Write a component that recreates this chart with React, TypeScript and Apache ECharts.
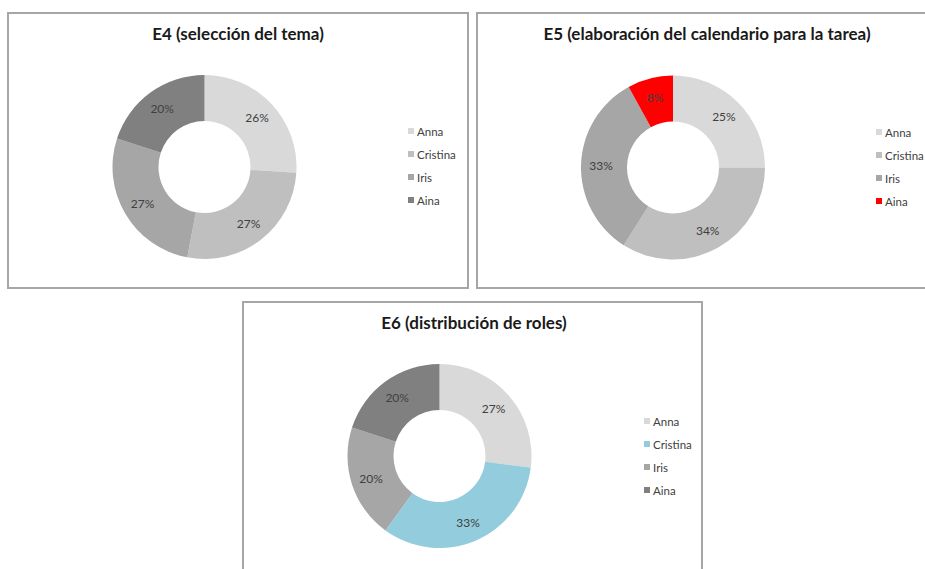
import React, { useEffect, useRef } from "react";
import * as echarts from "echarts";

const names = ["Anna", "Cristina", "Iris", "Aina"];
const titles = [
  "E4 (selección del tema)",
  "E5 (elaboración del calendario para la tarea)",
  "E6 (distribución de roles)",
];
const e4Values = [26, 27, 27, 20];
const e5Values = [25, 34, 33, 8];
const e6Values = [27, 33, 20, 20];
const e4Colors = ["#d9d9d9", "#bfbfbf", "#a6a6a6", "#808080"];
const e5Colors = ["#d9d9d9", "#bfbfbf", "#a6a6a6", "#ff0000"];
const e6Colors = ["#d9d9d9", "#93cddd", "#a6a6a6", "#808080"];

const FONT = "Lato, 'Open Sans', sans-serif";

export default function App() {
  const ref = useRef<HTMLDivElement>(null);
  useEffect(() => {
    if (!ref.current) return;
    const chart = echarts.init(ref.current, undefined, { renderer: "svg" });

    const panels = [
      { values: e4Values, colors: e4Colors, center: [204.5, 167], titleX: 233, titleY: 20, legendLeft: 403, legendTop: 119 },
      { values: e5Values, colors: e5Colors, center: [673, 167.5], titleX: 702, titleY: 20, legendLeft: 871, legendTop: 120 },
      { values: e6Values, colors: e6Colors, center: [439.5, 456], titleX: 469, titleY: 309, legendLeft: 639, legendTop: 409 },
    ];

    const series = panels.map((p) => ({
      type: "pie",
      radius: [46, 92],
      center: p.center,
      startAngle: 90,
      clockwise: true,
      silent: true,
      label: {
        show: true,
        position: "inside",
        formatter: "{c}%",
        color: "#404040",
        fontSize: 12,
        fontFamily: FONT,
      },
      labelLine: { show: false },
      itemStyle: { borderWidth: 0 },
      data: names.map((n, j) => ({
        name: n,
        value: p.values[j],
        itemStyle: { color: p.colors[j] },
      })),
    }));

    const legend = panels.map((p) => ({
      orient: "vertical",
      left: p.legendLeft,
      top: p.legendTop,
      icon: "rect",
      itemWidth: 6,
      itemHeight: 6,
      itemGap: 9,
      selectedMode: false,
      textStyle: { color: "#404040", fontSize: 11.5, lineHeight: 14, fontFamily: FONT, padding: [0, 0, 0, -2] },
      data: names.map((n, j) => ({ name: n, itemStyle: { color: p.colors[j] } })),
    }));

    const title = panels.map((p, i) => ({
      text: titles[i],
      left: p.titleX,
      top: p.titleY,
      textAlign: "center",
      textStyle: { fontSize: 17, fontWeight: "bold", color: "#1a1a1a", fontFamily: FONT },
    }));

    const borderStyle = { fill: "none", stroke: "#a6a6a6", lineWidth: 2 };
    chart.setOption({
      animation: false,
      backgroundColor: "#ffffff",
      title,
      legend,
      graphic: [
        { type: "rect", shape: { x: 8, y: 13, width: 460, height: 275 }, style: borderStyle, z: 0 },
        { type: "rect", shape: { x: 477, y: 13, width: 460, height: 275 }, style: borderStyle, z: 0 },
        { type: "rect", shape: { x: 243, y: 302, width: 459, height: 280 }, style: borderStyle, z: 0 },
      ],
      series,
    });
    return () => chart.dispose();
  }, []);
  return (
    <div
      ref={ref}
      style={{ position: "fixed", left: 0, top: 0, width: 925, height: 569, background: "#fff" }}
    />
  );
}
